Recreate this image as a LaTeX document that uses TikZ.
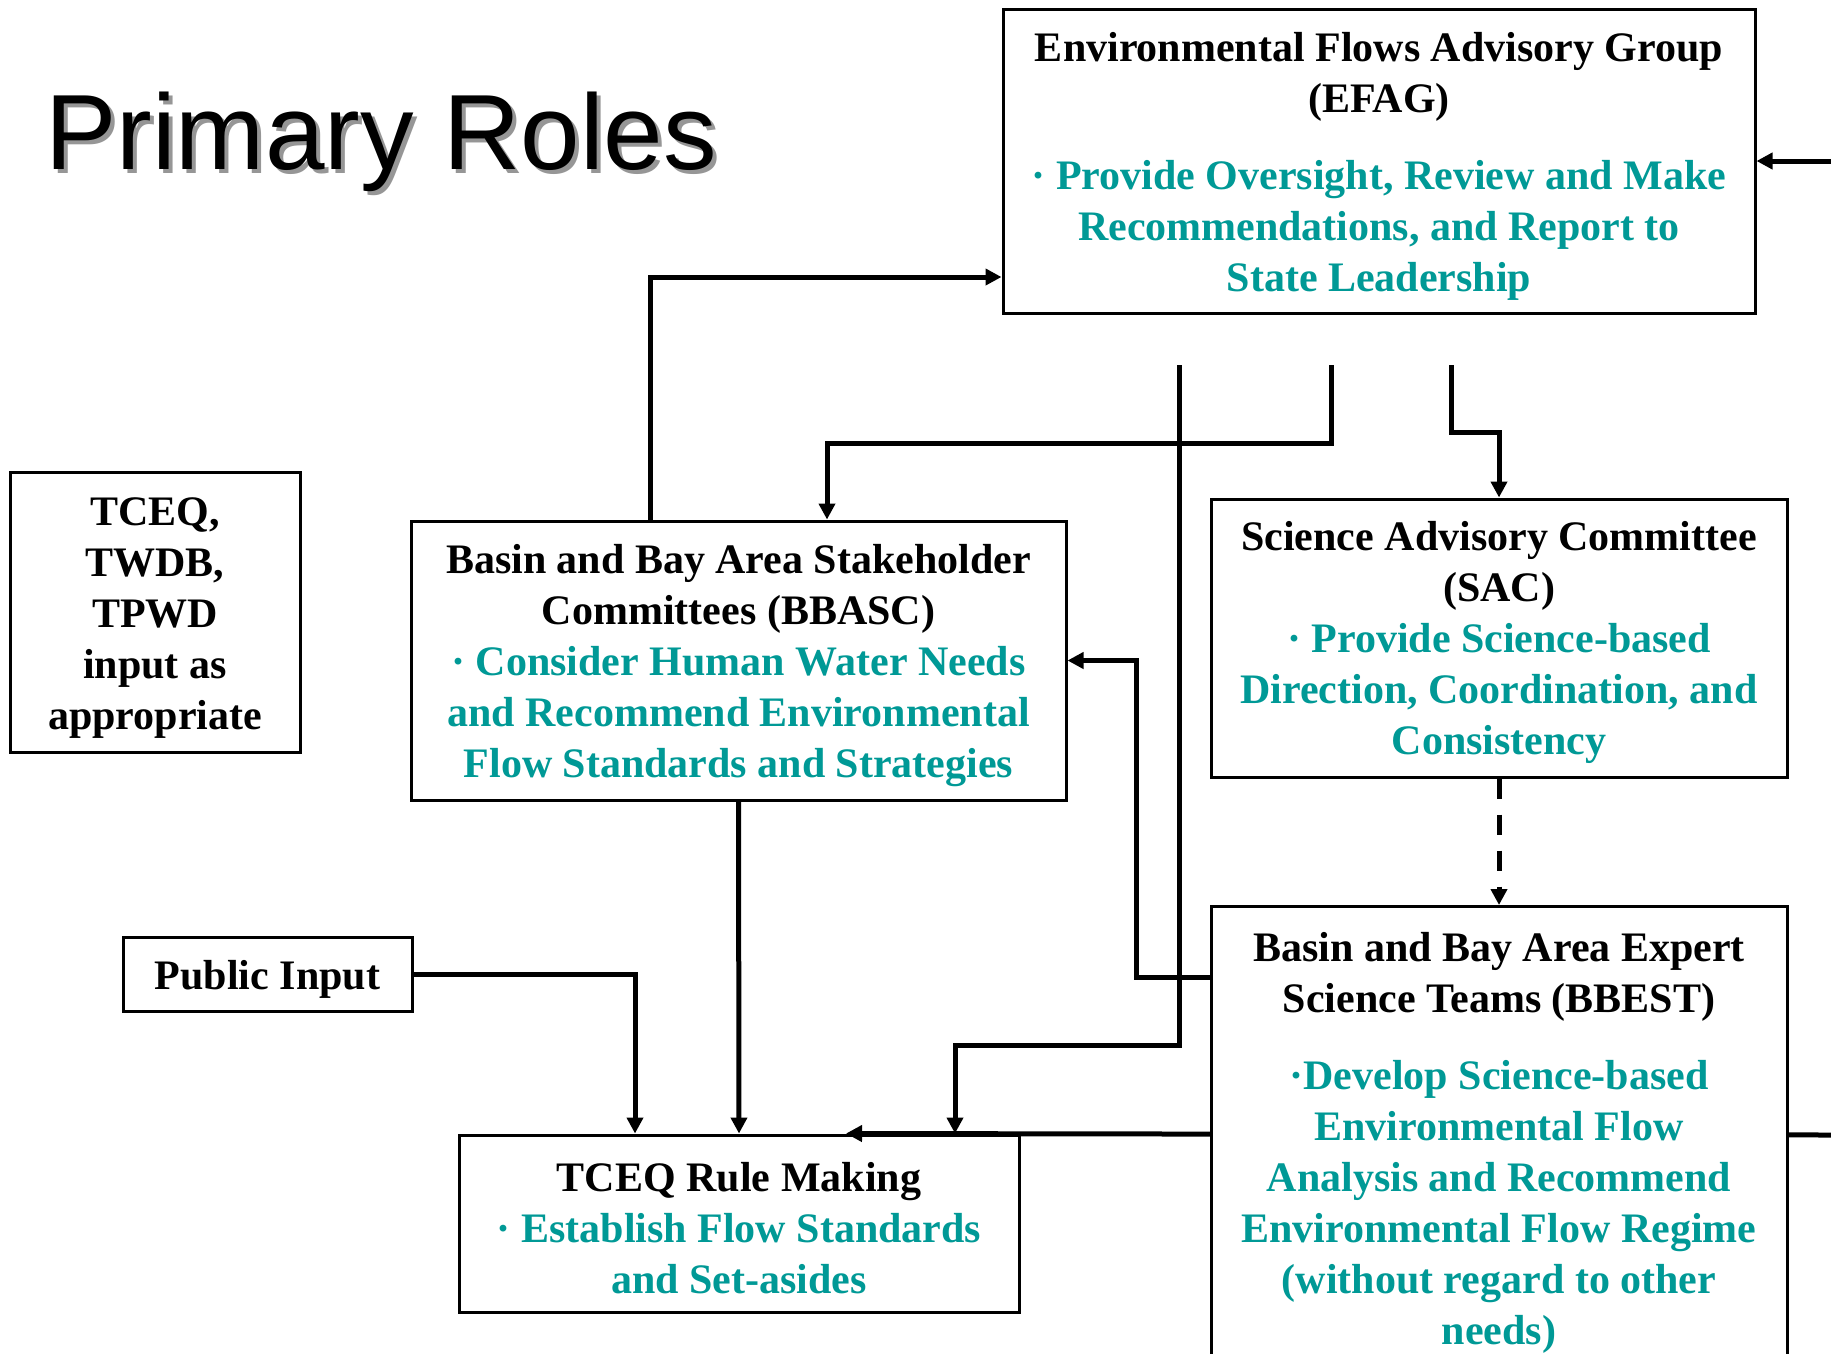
\documentclass[tikz,border=0pt]{standalone}
\usepackage{fontspec}
\setmainfont{Liberation Serif}
\newfontfamily\titlefont{Liberation Sans}
\usetikzlibrary{arrows.meta}
\definecolor{tealc}{RGB}{0,153,150}
\definecolor{shadowc}{RGB}{150,150,150}
\newcommand{\tl}[1]{\textcolor{tealc}{#1}}
\newcommand{\topfix}{\rule{0pt}{39pt}}
\begin{document}
\begin{tikzpicture}[x=1pt,y=-1pt,
  box/.style={draw=black, line width=3pt, fill=white, align=center, inner sep=0pt, font=\fontsize{42}{51}\selectfont\bfseries},
  boxtext/.style={align=center, inner sep=0pt, font=\fontsize{42}{51}\selectfont\bfseries},
  conn/.style={line width=5pt, -{Triangle[length=16pt,width=16pt]}},
  titlestyle/.style={anchor=base west, inner sep=0pt, font=\titlefont\fontsize{107}{120}\selectfont}
  ]
\useasboundingbox (0,0) rectangle (1831,1353);
\clip (0,0) rectangle (1831,1353);
\fill[white] (0,0) rectangle (1831,1353);

% title
\node[titlestyle, text=shadowc] (titleshadow) at (49,173) {Primary Roles};
\node[titlestyle] (title) at (45,169) {Primary Roles};

% boxes
\node[box, minimum width=752, minimum height=304] (efag) at (1379,161)
  {\topfix Environmental Flows Advisory Group\\(EFAG)\\[26pt]
   \tl{· Provide Oversight, Review and Make}\\\tl{Recommendations, and Report to}\\\tl{State Leadership}};
\node[box, minimum width=576, minimum height=278] (sac) at (1499,638)
  {\topfix Science Advisory Committee\\(SAC)\\\tl{· Provide Science-based}\\\tl{Direction, Coordination, and}\\\tl{Consistency}};
\node[box, minimum width=655, minimum height=279] (bbasc) at (738.5,660.5)
  {\topfix Basin and Bay Area Stakeholder\\Committees (BBASC)\\\tl{· Consider Human Water Needs}\\\tl{and Recommend Environmental}\\\tl{Flow Standards and Strategies}};
\node[box, minimum width=290, minimum height=280] (agencies) at (155,612)
  {\topfix TCEQ,\\TWDB,\\TPWD\\input as\\appropriate};
\node[box, minimum width=289, minimum height=74] (public) at (267.5,974) {\topfix Public Input};
\node[box, minimum width=560, minimum height=177] (rule) at (739,1223.5)
  {\topfix TCEQ Rule Making\\\tl{· Establish Flow Standards}\\\tl{and Set-asides}};

% free ends
\coordinate (inR) at (1831,161);
\coordinate (inB) at (1831,1135);
\coordinate (e1) at (1179,365);
\coordinate (e2) at (1331,365);
\coordinate (e3) at (1451,365);

% line passing behind BBEST
\draw[conn] (inB) -- ([xshift=107pt]rule.north);

% BBEST box (runs off the bottom)
\node[draw=black, line width=3pt, fill=white, minimum width=576, minimum height=520, anchor=north, inner sep=0pt] (bbest) at (1499,905) {};
\node[boxtext, anchor=north] (bbesttext) at ([yshift=-27pt]bbest.north)
  {Basin and Bay Area Expert\\Science Teams (BBEST)\\[26pt]
   \tl{·Develop Science-based}\\\tl{Environmental Flow}\\\tl{Analysis and Recommend}\\\tl{Environmental Flow Regime}\\\tl{(without regard to other}\\\tl{needs)}};

% connectors
\draw[conn] (inR) -- (efag.east);
\draw[conn] ([xshift=-88.5pt]bbasc.north) |- ([yshift=-116pt]efag.west);
\draw[conn] (e2) -- ++(0,78) -| ([xshift=88.5pt]bbasc.north);
\draw[conn] (e3) -- ++(0,67) -| (sac.north);
\draw[conn] (e1) -- ++(0,680) -| ([xshift=216pt]rule.north);
\draw[conn, dash pattern=on 20pt off 16pt] (sac.south) -- (bbest.north);
\draw[conn] ([yshift=-72pt]bbest.north west) -- ++(-73,0) |- (bbasc.east);
\draw[conn] (public.east) -| ([xshift=-104pt]rule.north);
\draw[conn] (bbasc.south) -- (rule.north);
\end{tikzpicture}
\end{document}
